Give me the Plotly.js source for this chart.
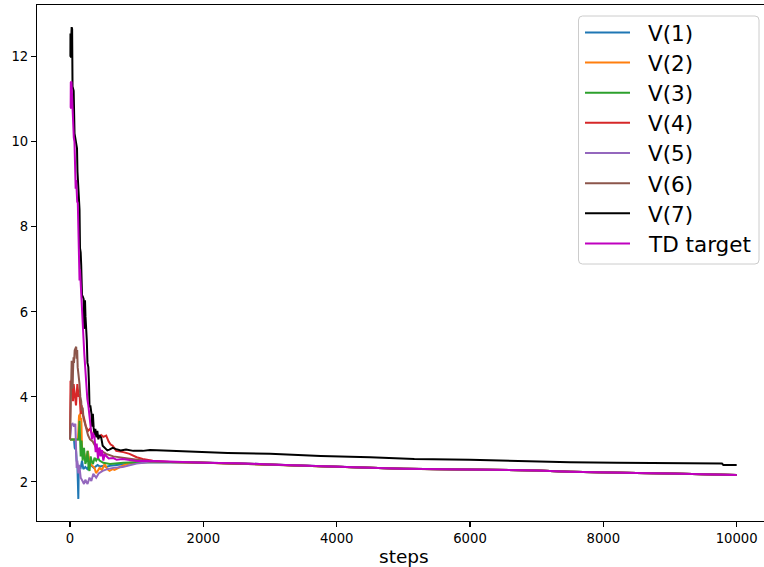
<!DOCTYPE html>
<html>
<head>
<meta charset="utf-8">
<script src="https://cdn.plot.ly/plotly-3.0.1.min.js"></script>
<style>html,body{margin:0;padding:0;background:#fff;}#chart{width:764px;height:567px;}</style>
</head>
<body>
<div id="chart"></div>
<script>
// ---- data ----
const seriesNames = ["V(1)", "V(2)", "V(3)", "V(4)", "V(5)", "V(6)", "V(7)", "TD target"];
const seriesColors = ["#1f77b4", "#ff7f0e", "#2ca02c", "#d62728", "#9467bd", "#8c564b", "#000000", "#bf00bf"];

// common converged tail shared by V(1)..V(6) and the TD target
const tailSteps = [1800, 2000, 2500, 3000, 3500, 4000, 4500, 5000, 5500, 6000, 6500, 7000, 7500, 8000, 8500, 9000, 9500, 10000];
const tailVals  = [2.46, 2.45, 2.44, 2.41, 2.38, 2.35, 2.33, 2.31, 2.30, 2.29, 2.28, 2.27, 2.24, 2.22, 2.21, 2.20, 2.18, 2.165];

const v1Steps = [0, 60, 70, 90, 100, 110, 118, 125, 130, 140, 160, 180, 200, 230, 260, 300, 323, 360, 413, 450, 500, 543, 600, 700, 850, 1000, 1200, 1500];
const v1Vals  = [3.0, 3.0, 2.8, 2.75, 2.5, 2.42, 2.0, 1.6, 2.2, 2.35, 2.33, 2.5, 2.3, 2.35, 2.3, 2.42, 2.38, 2.33, 2.4, 2.36, 2.38, 2.35, 2.38, 2.40, 2.43, 2.45, 2.47, 2.47];

const v2Steps = [0, 120, 135, 150, 160, 170, 178, 190, 210, 240, 268, 290, 320, 368, 390, 413, 443, 480, 518, 560, 593, 640, 668, 750, 893, 1000, 1200, 1500];
const v2Vals  = [3.0, 3.0, 3.55, 3.6, 3.45, 3.5, 2.9, 2.6, 2.7, 2.5, 2.73, 2.5, 2.4, 2.33, 2.21, 2.25, 2.33, 2.28, 2.42, 2.3, 2.26, 2.3, 2.28, 2.35, 2.45, 2.46, 2.47, 2.47];

const v3Steps = [0, 130, 143, 150, 160, 173, 190, 210, 230, 248, 263, 280, 293, 310, 323, 345, 368, 393, 420, 443, 500, 600, 800, 1000, 1200, 1500];
const v3Vals  = [3.0, 3.0, 3.44, 3.0, 2.6, 2.97, 2.5, 2.8, 2.42, 2.5, 2.73, 2.3, 2.26, 2.6, 2.5, 2.42, 2.57, 2.5, 2.57, 2.5, 2.45, 2.42, 2.45, 2.46, 2.47, 2.47];

const v4Steps = [0, 3, 8, 15, 25, 35, 45, 55, 70, 90, 110, 130, 143, 160, 175, 188, 210, 240, 270, 300, 340, 393, 430, 468, 500, 543, 580, 610, 640, 693, 800, 893, 1000, 1090, 1240, 1500];
const v4Vals  = [3.0, 4.0, 4.38, 4.1, 4.4, 4.2, 3.9, 4.3, 4.0, 3.8, 4.3, 4.0, 4.07, 3.6, 3.8, 3.6, 3.5, 3.3, 3.2, 3.25, 3.1, 3.16, 3.04, 3.1, 3.06, 3.09, 2.95, 2.88, 2.85, 2.73, 2.7, 2.66, 2.58, 2.54, 2.5, 2.47];

const v5Steps = [0, 20, 40, 60, 80, 90, 100, 110, 125, 140, 160, 188, 210, 230, 263, 293, 320, 350, 393, 430, 490, 560, 650, 790, 900, 1000, 1200, 1500];
const v5Vals  = [3.0, 3.35, 3.37, 3.3, 3.37, 2.8, 2.33, 2.5, 2.2, 2.4, 2.1, 2.02, 1.95, 2.05, 1.95, 2.1, 2.02, 2.19, 2.1, 2.2, 2.26, 2.3, 2.33, 2.35, 2.4, 2.43, 2.47, 2.47];

const v6Steps = [0, 10, 20, 25, 33, 40, 45, 53, 60, 70, 83, 93, 100, 108, 115, 130, 143, 155, 168, 175, 190, 203, 220, 243, 270, 300, 340, 393, 450, 543, 650, 750, 893, 1000, 1200, 1500];
const v6Vals  = [3.0, 3.8, 4.5, 4.85, 4.7, 4.2, 4.6, 4.93, 4.8, 5.1, 5.17, 5.18, 4.9, 5.1, 4.7, 4.5, 4.3, 4.0, 3.9, 3.68, 3.75, 3.5, 3.4, 3.2, 3.1, 3.0, 2.95, 2.8, 2.75, 2.66, 2.6, 2.58, 2.54, 2.52, 2.48, 2.47];

const v7Steps = [0, 6, 7, 20, 25, 32, 38, 55, 68, 80, 93, 105, 112, 120, 130, 143, 150, 160, 168, 180, 195, 205, 212, 225, 232, 245, 252, 262, 275, 285, 293, 305, 315, 322, 332, 343, 355, 368, 380, 395, 410, 425, 440, 468, 490, 520, 560, 590, 640, 693, 760, 840, 950, 1090, 1200, 1500, 2000, 2364, 3000, 3760, 4500, 5165, 6000, 6800, 7500, 8200, 9000, 9780, 9800, 10000];
const v7Vals  = [12.0, 12.0, 12.55, 12.5, 12.7, 12.65, 11.3, 11.2, 10.2, 10.1, 9.9, 9.85, 9.3, 9.1, 8.9, 8.4, 7.5, 7.4, 7.1, 6.4, 6.35, 6.3, 5.6, 6.27, 5.9, 5.6, 5.33, 4.8, 4.7, 4.3, 3.75, 3.8, 3.72, 3.6, 3.3, 3.6, 3.27, 3.1, 3.25, 3.05, 3.2, 3.0, 3.1, 3.04, 2.85, 2.8, 2.74, 2.76, 2.8, 2.77, 2.74, 2.76, 2.73, 2.73, 2.75, 2.73, 2.70, 2.68, 2.66, 2.61, 2.58, 2.54, 2.52, 2.48, 2.46, 2.45, 2.44, 2.43, 2.40, 2.40];

const tdSteps = [0, 10, 12, 22, 25, 35, 45, 57, 67, 75, 85, 93, 100, 108, 117, 125, 135, 143, 150, 158, 168, 180, 192, 200, 215, 230, 243, 260, 275, 293, 310, 330, 345, 368, 385, 400, 420, 443, 460, 480, 500, 520, 543, 580, 650, 700, 790, 900, 1000, 1143, 1500];
const tdVals  = [10.8, 10.8, 11.4, 11.42, 11.3, 10.8, 10.5, 10.1, 10.0, 9.3, 8.9, 9.1, 8.6, 8.59, 8.56, 7.8, 7.45, 6.74, 7.0, 6.7, 6.67, 6.2, 5.56, 5.45, 5.0, 4.6, 4.31, 3.95, 3.8, 3.52, 3.3, 3.0, 3.15, 3.04, 2.7, 2.9, 2.55, 2.81, 2.6, 2.75, 2.5, 2.65, 2.61, 2.55, 2.56, 2.52, 2.54, 2.51, 2.49, 2.50, 2.47];

const xTickVals = [0, 2000, 4000, 6000, 8000, 10000];
const yTickVals = [2, 4, 6, 8, 10, 12];

// ---- build traces ----
const seriesX = [
  v1Steps.concat(tailSteps), v2Steps.concat(tailSteps), v3Steps.concat(tailSteps),
  v4Steps.concat(tailSteps), v5Steps.concat(tailSteps), v6Steps.concat(tailSteps),
  v7Steps, tdSteps.concat(tailSteps)
];
const seriesY = [
  v1Vals.concat(tailVals), v2Vals.concat(tailVals), v3Vals.concat(tailVals),
  v4Vals.concat(tailVals), v5Vals.concat(tailVals), v6Vals.concat(tailVals),
  v7Vals, tdVals.concat(tailVals)
];
const traces = seriesNames.map((n, i) => ({
  x: seriesX[i], y: seriesY[i], name: n, type: "scatter", mode: "lines",
  line: {color: seriesColors[i], width: 2}, showlegend: false, hoverinfo: "skip"
}));

// ---- geometry (pixels) ----
const W = 764, H = 567;
const mL = 37, mR = 0, mT = 5, mB = 46;
const pw = W - mL - mR, ph = H - mT - mB;
const px2x = p => (p - mL) / pw;
const py2y = p => (H - mB - p) / ph;

// ---- manual legend (matplotlib style) ----
const shapes = [];
const annotations = [];
const bx0 = 578.5, bx1 = 759, by0 = 16, by1 = 264, r = 4;
const X = px2x, Y = py2y;
const boxPath =
  `M ${X(bx0 + r)} ${Y(by0)} L ${X(bx1 - r)} ${Y(by0)} Q ${X(bx1)} ${Y(by0)} ${X(bx1)} ${Y(by0 + r)} ` +
  `L ${X(bx1)} ${Y(by1 - r)} Q ${X(bx1)} ${Y(by1)} ${X(bx1 - r)} ${Y(by1)} ` +
  `L ${X(bx0 + r)} ${Y(by1)} Q ${X(bx0)} ${Y(by1)} ${X(bx0)} ${Y(by1 - r)} ` +
  `L ${X(bx0)} ${Y(by0 + r)} Q ${X(bx0)} ${Y(by0)} ${X(bx0 + r)} ${Y(by0)} Z`;
shapes.push({type: "path", xref: "paper", yref: "paper", path: boxPath,
  fillcolor: "rgba(255,255,255,0.8)", line: {color: "#cccccc", width: 1}, layer: "above"});
seriesNames.forEach((n, i) => {
  const yy = 32.4 + i * 30.15;
  shapes.push({type: "line", xref: "paper", yref: "paper", x0: X(585), x1: X(630), y0: Y(yy), y1: Y(yy),
    line: {color: seriesColors[i], width: 2}, layer: "above"});
  annotations.push({xref: "paper", yref: "paper", x: X(646), y: Y(yy + 1), xanchor: "left", yanchor: "middle",
    text: n, showarrow: false, font: {size: 21.5, color: "#000000", family: "DejaVu Sans"}});
});
// x-axis label
annotations.push({xref: "paper", yref: "paper", x: X(403.7), y: Y(556), xanchor: "center", yanchor: "middle",
  text: "steps", showarrow: false, font: {size: 18.5, color: "#000000", family: "DejaVu Sans"}});

const layout = {
  width: W, height: H,
  margin: {l: mL, r: mR, t: mT, b: mB, pad: 0},
  paper_bgcolor: "#ffffff", plot_bgcolor: "#ffffff",
  font: {family: "DejaVu Sans", color: "#000000", size: 13},
  showlegend: false,
  xaxis: {
    range: [-495, 10410], tickvals: xTickVals, ticktext: xTickVals.map(String),
    showgrid: false, zeroline: false, showline: true, mirror: true, linecolor: "#000000", linewidth: 1.1,
    ticks: "outside", ticklen: 5, tickwidth: 1.1, tickcolor: "#000000",
    tickfont: {size: 13.2, family: "DejaVu Sans", color: "#000000"}
  },
  yaxis: {
    range: [1.08, 13.22], tickvals: yTickVals, ticktext: yTickVals.map(String),
    showgrid: false, zeroline: false, showline: true, mirror: false, linecolor: "#000000", linewidth: 1.1,
    ticks: "outside", ticklen: 5, tickwidth: 1.1, tickcolor: "#000000",
    tickfont: {size: 13.2, family: "DejaVu Sans", color: "#000000"}
  },
  shapes: shapes,
  annotations: annotations
};

Plotly.newPlot("chart", traces, layout, {staticPlot: true, displayModeBar: false});
</script>
</body>
</html>
